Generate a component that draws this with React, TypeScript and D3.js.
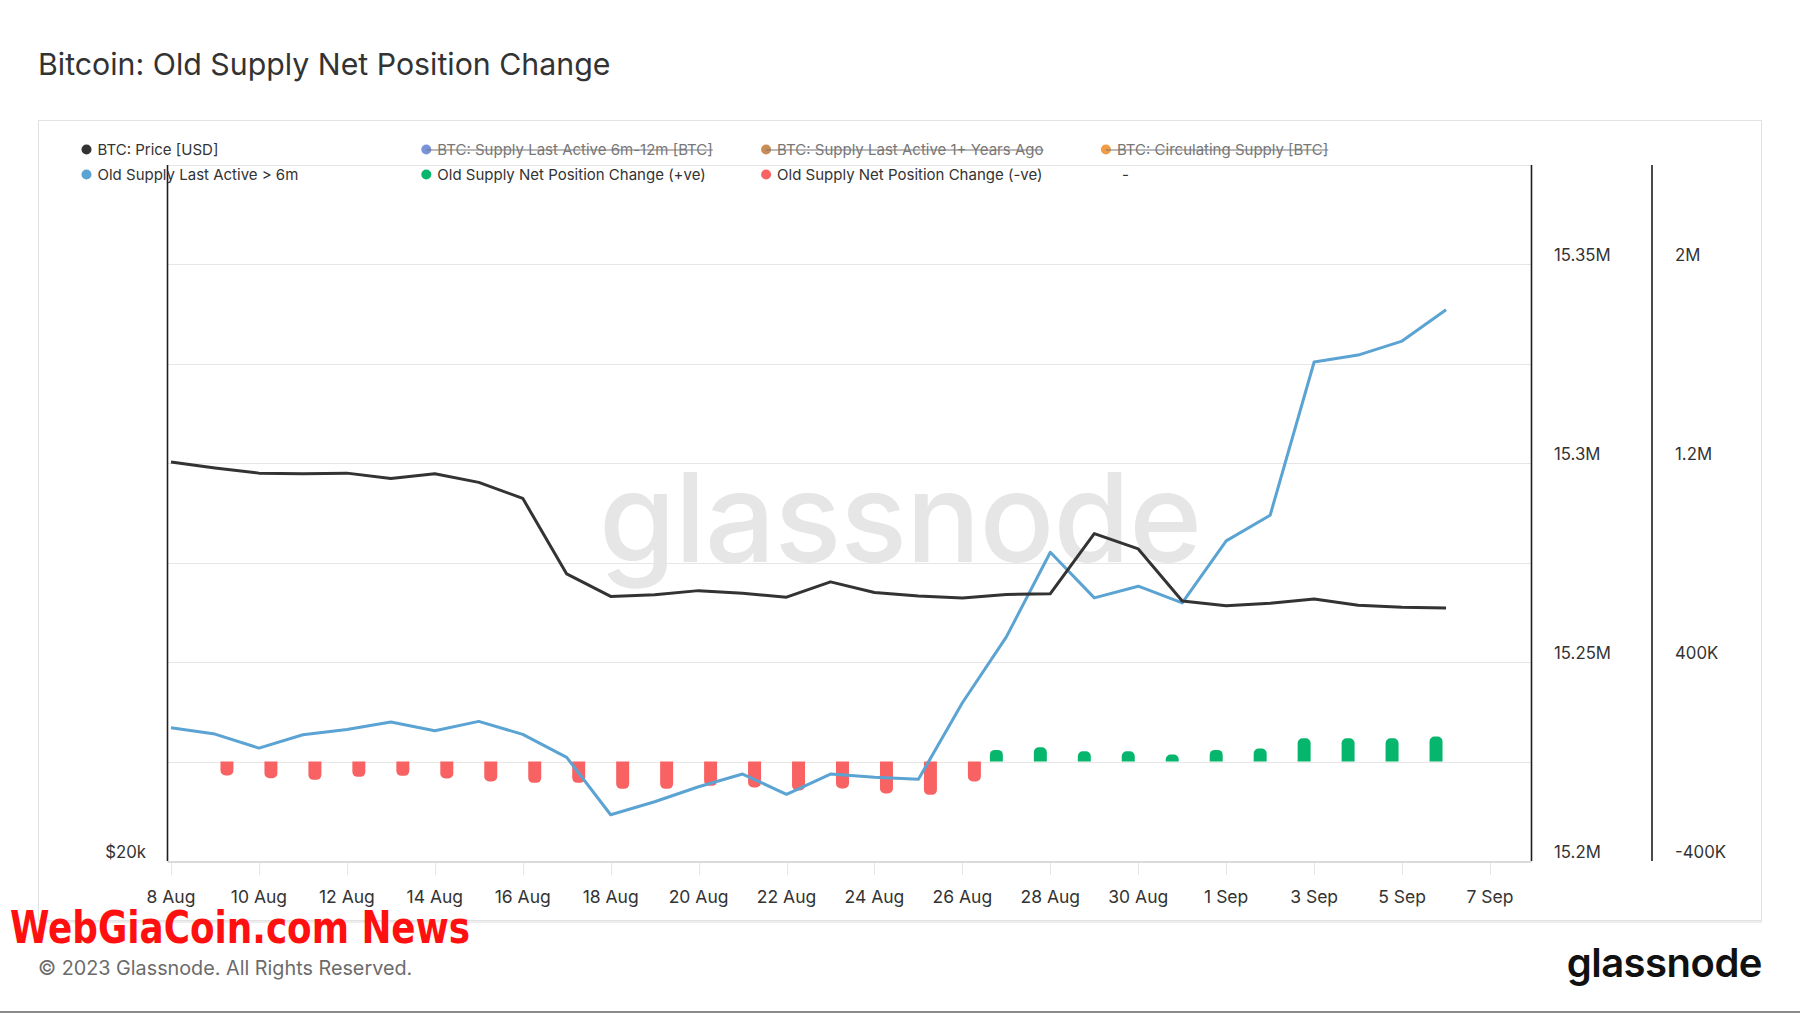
import { useEffect, useRef } from "react";
import * as d3 from "d3";

// daily data, 8 Aug - 6 Sep 2023
const dates = [
  "2023-08-08", "2023-08-09", "2023-08-10", "2023-08-11", "2023-08-12", "2023-08-13",
  "2023-08-14", "2023-08-15", "2023-08-16", "2023-08-17", "2023-08-18", "2023-08-19",
  "2023-08-20", "2023-08-21", "2023-08-22", "2023-08-23", "2023-08-24", "2023-08-25",
  "2023-08-26", "2023-08-27", "2023-08-28", "2023-08-29", "2023-08-30", "2023-08-31",
  "2023-09-01", "2023-09-02", "2023-09-03", "2023-09-04", "2023-09-05", "2023-09-06",
];

const priceUsd = [
  29760, 29580, 29430, 29410, 29430, 29270, 29410, 29160, 28700, 26620, 26030, 26070,
  26180, 26110, 26010, 26410, 26130, 26040, 25990, 26080, 26100, 27710, 27290, 25910,
  25790, 25850, 25960, 25800, 25750, 25730,
];

const oldSupply = [
  15233490, 15231910, 15228390, 15231730, 15233090, 15234930, 15232740, 15235100,
  15231840, 15226060, 15211630, 15214900, 15218670, 15221860, 15216760, 15221860,
  15221030, 15220530, 15239800, 15256360, 15277640, 15266160, 15269100, 15264900,
  15280480, 15286940, 15325460, 15327210, 15330730, 15338620,
];

const netPositive = [
  0, 0, 0, 0, 0, 0, 0, 0, 0, 0, 0, 0, 0, 0, 0, 0, 0, 0, 0,
  47000, 57500, 41400, 41400, 28100, 47000, 52300, 93700, 93700, 93700, 100500,
];

const netNegative = [
  0, -56300, -67100, -73600, -61500, -57500, -68300, -80400, -85600, -85600, -109700,
  -109700, -97700, -104500, -116600, -108500, -128600, -133900, -80400,
  0, 0, 0, 0, 0, 0, 0, 0, 0, 0, 0,
];

const xTickDates = [
  "2023-08-08", "2023-08-10", "2023-08-12", "2023-08-14", "2023-08-16", "2023-08-18",
  "2023-08-20", "2023-08-22", "2023-08-24", "2023-08-26", "2023-08-28", "2023-08-30",
  "2023-09-01", "2023-09-03", "2023-09-05", "2023-09-07",
];

const gridTicks = [15225000, 15250000, 15275000, 15300000, 15325000, 15350000, 15375000];
const supplyTicks = [15200000, 15250000, 15300000, 15350000];
const supplyLabels = ["15.2M", "15.25M", "15.3M", "15.35M"];
const netTicks = [-400000, 400000, 1200000, 2000000];
const netLabels = ["-400K", "400K", "1.2M", "2M"];
const priceTicks = [20000];
const priceLabels = ["$20k"];

const legendNames = [
  "BTC: Price [USD]",
  "BTC: Supply Last Active 6m-12m [BTC]",
  "BTC: Supply Last Active 1+ Years Ago",
  "BTC: Circulating Supply [BTC]",
  "Old Supply Last Active > 6m",
  "Old Supply Net Position Change (+ve)",
  "Old Supply Net Position Change (-ve)",
  "-",
];
const legendColors = ["#333333", "#7b93da", "#c98d58", "#f39c43", "#5ba3d2", "#06b66c", "#f86262", null];
const legendHidden = [false, true, true, true, false, false, false, false];

const FONT = "Inter, 'Noto Sans', sans-serif";

function barPath(x: number, w: number, y0: number, y1: number) {
  const r = Math.min(5, Math.abs(y1 - y0), w / 2);
  if (y1 < y0) {
    return `M${x},${y0}V${y1 + r}A${r},${r} 0 0 1 ${x + r},${y1}H${x + w - r}A${r},${r} 0 0 1 ${x + w},${y1 + r}V${y0}Z`;
  }
  return `M${x},${y0}V${y1 - r}A${r},${r} 0 0 0 ${x + r},${y1}H${x + w - r}A${r},${r} 0 0 0 ${x + w},${y1 - r}V${y0}Z`;
}

export default function App() {
  const svgRef = useRef<SVGSVGElement>(null);

  useEffect(() => {
    document.body.style.margin = "0";
    const svg = d3.select(svgRef.current);
    svg.selectAll("*").remove();

    const W = 1800, H = 1013;
    const plot = { left: 167.5, right: 1531.5, top: 165, bottom: 861 };
    const parse = d3.utcParse("%Y-%m-%d");
    const days = dates.map(d => parse(d) as Date);

    const x = d3.scaleUtc()
      .domain([parse("2023-08-08") as Date, parse("2023-09-07") as Date])
      .range([171, 1490]);
    const yPrice = d3.scaleLog().domain([20000, 40000]).range([plot.bottom, plot.top]);
    const ySupply = d3.scaleLinear().domain([15200000, 15375000]).range([plot.bottom, plot.top]);
    const yNet = d3.scaleLinear().domain([-400000, 2400000]).range([plot.bottom, plot.top]);
    const sub = d3.scaleBand().domain(["pos", "neg"]).range([-25.5, 27.5]).paddingInner(0.41).paddingOuter(0.41);

    svg.attr("width", W).attr("height", H).attr("viewBox", `0 0 ${W} ${H}`);
    svg.append("rect").attr("width", W).attr("height", H).attr("fill", "#fff");

    // title
    svg.append("text")
      .attr("x", 38).attr("y", 75)
      .attr("font-family", FONT).attr("font-size", 30.3).attr("fill", "#333")
      .text("Bitcoin: Old Supply Net Position Change");

    // panel
    svg.append("rect")
      .attr("x", 38.5).attr("y", 120.5).attr("width", 1723).attr("height", 800)
      .attr("fill", "#fff").attr("stroke", "#e2e2e2");
    svg.append("line")
      .attr("x1", 39).attr("x2", 1762).attr("y1", 922).attr("y2", 922)
      .attr("stroke", "#ededed").attr("stroke-width", 2);

    // watermark
    svg.append("text")
      .attr("x", 900).attr("y", 562).attr("text-anchor", "middle")
      .attr("font-family", FONT).attr("font-weight", 500).attr("font-size", 124)
      .attr("fill", "#e6e6e6").attr("letter-spacing", -1)
      .text("glassnode");

    // grid
    svg.append("g").selectAll("line").data(gridTicks).join("line")
      .attr("x1", plot.left).attr("x2", plot.right)
      .attr("y1", d => Math.round(ySupply(d)) + 0.5).attr("y2", d => Math.round(ySupply(d)) + 0.5)
      .attr("stroke", "#e6e6e6");

    // x axis line and ticks
    svg.append("line")
      .attr("x1", plot.left).attr("x2", plot.right).attr("y1", plot.bottom + 1).attr("y2", plot.bottom + 1)
      .attr("stroke", "#dadada").attr("stroke-width", 2);
    const xt = xTickDates.map(d => parse(d) as Date);
    svg.append("g").selectAll("line").data(xt).join("line")
      .attr("x1", d => Math.round(x(d)) + 0.5).attr("x2", d => Math.round(x(d)) + 0.5)
      .attr("y1", plot.bottom + 2).attr("y2", plot.bottom + 14)
      .attr("stroke", "#e6e6e6");
    svg.append("g").selectAll("text").data(xt).join("text")
      .attr("x", d => x(d)).attr("y", 903).attr("text-anchor", "middle")
      .attr("font-family", FONT).attr("font-size", 17.5).attr("fill", "#333")
      .text(d => d3.utcFormat("%-d %b")(d));

    // vertical axis lines
    [plot.left, plot.right, 1652].forEach(ax => {
      svg.append("line")
        .attr("x1", ax).attr("x2", ax).attr("y1", plot.top).attr("y2", plot.bottom)
        .attr("stroke", "#1e1e1e").attr("stroke-width", 1.6);
    });

    // axis labels
    svg.append("g").selectAll("text").data(supplyTicks).join("text")
      .attr("x", 1554).attr("y", d => ySupply(d) - 3)
      .attr("font-family", FONT).attr("font-size", 16.8).attr("fill", "#333")
      .text((_, i) => supplyLabels[i]);
    svg.append("g").selectAll("text").data(netTicks).join("text")
      .attr("x", 1675).attr("y", d => yNet(d) - 3)
      .attr("font-family", FONT).attr("font-size", 16.8).attr("fill", "#333")
      .text((_, i) => netLabels[i]);
    svg.append("g").selectAll("text").data(priceTicks).join("text")
      .attr("x", 146).attr("y", d => yPrice(d) - 3).attr("text-anchor", "end")
      .attr("font-family", FONT).attr("font-size", 16.8).attr("fill", "#333")
      .text((_, i) => priceLabels[i]);

    // bars
    const bw = sub.bandwidth();
    const bars = svg.append("g");
    bars.selectAll("path.pos").data(days.map((d, i) => ({ d, v: netPositive[i] })).filter(e => e.v !== 0))
      .join("path").attr("class", "pos")
      .attr("d", e => barPath(x(e.d) + (sub("pos") as number), bw, yNet(0), yNet(e.v)))
      .attr("fill", "#06b66c");
    bars.selectAll("path.neg").data(days.map((d, i) => ({ d, v: netNegative[i] })).filter(e => e.v !== 0))
      .join("path").attr("class", "neg")
      .attr("d", e => barPath(x(e.d) + (sub("neg") as number), bw, yNet(0), yNet(e.v)))
      .attr("fill", "#f86262");

    // lines
    const supplyLine = d3.line<number>().x((_, i) => x(days[i])).y(v => ySupply(v));
    const priceLine = d3.line<number>().x((_, i) => x(days[i])).y(v => yPrice(v));
    svg.append("path").attr("d", supplyLine(oldSupply))
      .attr("fill", "none").attr("stroke", "#5ba3d2").attr("stroke-width", 3)
      .attr("stroke-linejoin", "round");
    svg.append("path").attr("d", priceLine(priceUsd))
      .attr("fill", "none").attr("stroke", "#333333").attr("stroke-width", 3)
      .attr("stroke-linejoin", "round");

    // legend
    const leg = svg.append("g");
    legendNames.forEach((name, i) => {
      const col = i % 4, row = Math.floor(i / 4);
      const cx = 86.5 + col * 339.8;
      const cy = 149.5 + row * 25;
      const g = leg.append("g");
      if (legendColors[i]) {
        g.append("circle").attr("cx", cx).attr("cy", cy).attr("r", 5).attr("fill", legendColors[i] as string);
      }
      const t = g.append("text")
        .attr("x", cx + (legendColors[i] ? 11 : 16)).attr("y", cy + 5.5)
        .attr("font-family", FONT).attr("font-size", 15)
        .attr("fill", legendHidden[i] ? "#777" : "#333")
        .text(name);
      if (legendHidden[i]) {
        const len = (t.node() as SVGTextElement).getComputedTextLength();
        g.append("line")
          .attr("x1", cx).attr("x2", cx + 11 + len).attr("y1", cy + 0.5).attr("y2", cy + 0.5)
          .attr("stroke", "#777").attr("stroke-width", 1.2);
      }
    });

    // footer
    svg.append("text")
      .attr("x", 38).attr("y", 975)
      .attr("font-family", FONT).attr("font-size", 19.8).attr("fill", "#6b6b6b")
      .text("© 2023 Glassnode. All Rights Reserved.");
    svg.append("text")
      .attr("x", 1762).attr("y", 977).attr("text-anchor", "end")
      .attr("font-family", FONT).attr("font-weight", 600).attr("font-size", 40)
      .attr("fill", "#111").attr("letter-spacing", -0.5)
      .text("glassnode");
    svg.append("text")
      .attr("x", 10).attr("y", 943)
      .attr("font-family", "'Liberation Sans Narrow', 'DejaVu Sans Condensed', sans-serif")
      .attr("font-weight", 700).attr("font-size", 45).attr("fill", "#ff1010")
      .attr("textLength", 460).attr("lengthAdjust", "spacingAndGlyphs")
      .text("WebGiaCoin.com News");
    svg.append("rect").attr("x", 0).attr("y", 1011).attr("width", W).attr("height", 2).attr("fill", "#8a8a8a");
  }, []);

  return <svg ref={svgRef} style={{ display: "block" }} />;
}
